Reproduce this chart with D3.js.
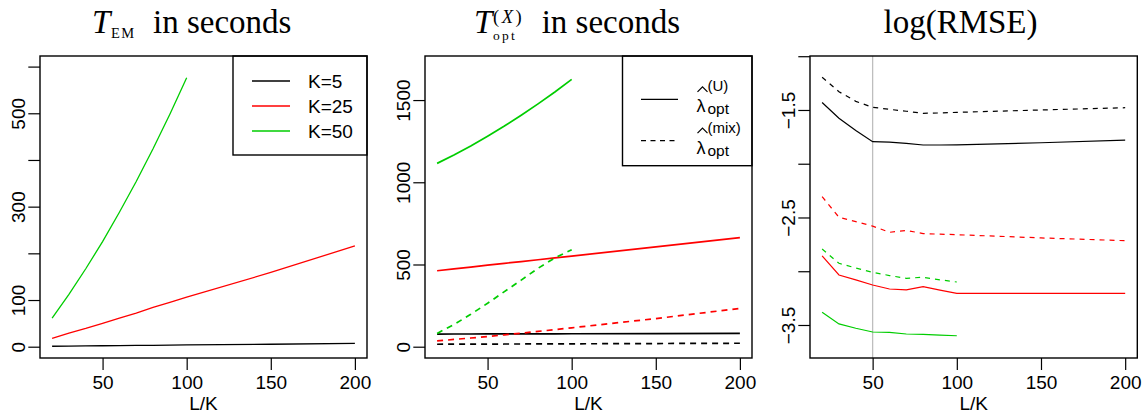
<!DOCTYPE html>
<html>
<head>
<meta charset="utf-8">
<script src="https://cdn.jsdelivr.net/npm/d3@7"></script>
<style>
  body { margin: 0; background: #fff; }
  svg { display: block; }
  .tick text { font-family: "Liberation Sans", Arial, sans-serif; font-size: 19px; fill: #000; }
</style>
</head>
<body>
<svg id="chart" width="1145" height="413"></svg>
<script>
// L/K values
const lk = [20, 30, 40, 50, 60, 70, 80, 90, 100, 150, 200];
const lkK50 = [20, 30, 40, 50, 60, 70, 80, 90, 100];

// T_EM in seconds
const emK5 = [1, 1.3, 1.7, 2, 2.3, 2.7, 3, 3.3, 3.7, 5.3, 7];
const emK25 = [18, 29, 39, 50, 61, 72, 84, 95, 106, 159, 216];
const emK50 = [61, 112, 167, 225, 288, 354, 424, 498, 576];

// T_opt in seconds (U = solid, mix = dashed)
const optK5U = [77, 77.2, 77.4, 77.7, 77.9, 78.1, 78.3, 78.6, 78.8, 79.9, 81];
const optK5Mix = [15, 15.3, 15.6, 16, 16.3, 16.6, 17, 17.3, 17.6, 19.3, 21];
const optK25U = [462, 473, 484, 496, 507, 518, 529, 540, 551, 607, 663];
const optK25Mix = [35, 44, 53, 62, 72, 82, 93, 104, 115, 171, 233];
const optK50U = [1115, 1166, 1221, 1280, 1342, 1408, 1477, 1549, 1626];
const optK50Mix = [81, 135, 197, 264, 335, 405, 477, 540, 590];

// log(RMSE)
const rmseK5U = [-1.43, -1.577, -1.69, -1.795, -1.80, -1.81, -1.826, -1.826, -1.825, -1.805, -1.78];
const rmseK5Mix = [-1.196, -1.33, -1.42, -1.475, -1.494, -1.512, -1.531, -1.528, -1.522, -1.50, -1.479];
const rmseK25U = [-2.858, -3.035, -3.08, -3.128, -3.165, -3.174, -3.143, -3.175, -3.205, -3.205, -3.205];
const rmseK25Mix = [-2.306, -2.498, -2.539, -2.58, -2.638, -2.62, -2.65, -2.655, -2.66, -2.69, -2.716];
const rmseK50U = [-3.382, -3.49, -3.53, -3.565, -3.568, -3.584, -3.588, -3.594, -3.60];
const rmseK50Mix = [-2.793, -2.926, -2.97, -3.01, -3.04, -3.066, -3.056, -3.08, -3.10];

const xTicks = [50, 100, 150, 200];
const emTicks = [0, 100, 200, 300, 400, 500, 600];
const emLabels = [0, 100, 300, 500];
const optTicks = [0, 500, 1000, 1500];
const rmseTicks = [-1.0, -1.5, -2.0, -2.5, -3.0, -3.5];
const rmseLabels = [-1.5, -2.5, -3.5];
const legendK = ["K=5", "K=25", "K=50"];

const BLACK = "#000", RED = "#ff0000", GREEN = "#00cd00";

const svg = d3.select("#chart");
const plotTop = 56, plotBottom = 358;

function panel(left, right, yDomain, yTicks, yLabels, fmt, series, dash, lw) {
  const x = d3.scaleLinear().domain([12.8, 207.2]).range([left, right]);
  const y = d3.scaleLinear().domain(yDomain).range([plotBottom, plotTop]);
  const g = svg.append("g");

  const line = d3.line().x(d => x(d[0])).y(d => y(d[1]));
  series.forEach(s => {
    g.append("path")
      .datum(s.xs.map((v, i) => [v, s.ys[i]]))
      .attr("d", line)
      .attr("fill", "none")
      .attr("stroke", s.color)
      .attr("stroke-width", lw)
      .attr("stroke-dasharray", s.dashed ? dash : null);
  });

  const xa = g.append("g")
    .attr("transform", `translate(0,${plotBottom})`)
    .call(d3.axisBottom(x).tickValues(xTicks).tickSize(12).tickPadding(5).tickFormat(d3.format("d")));
  xa.select(".domain").remove();
  xa.selectAll("line").attr("stroke-width", 1.2);
  xa.selectAll("text").attr("dy", 0).attr("y", 30.5);

  const ya = g.append("g")
    .attr("transform", `translate(${left},0)`)
    .call(d3.axisLeft(y).tickValues(yTicks).tickSize(11.7)
      .tickFormat(d => yLabels.includes(d) ? fmt(d) : ""));
  ya.select(".domain").remove();
  ya.selectAll("line").attr("stroke-width", 1.2);
  ya.selectAll("text")
    .attr("transform", "rotate(-90)")
    .attr("x", 0).attr("y", -15).attr("dy", 0)
    .attr("text-anchor", "middle");

  g.append("text")
    .attr("x", (left + right) / 2).attr("y", 409.5)
    .attr("text-anchor", "middle")
    .style("font-family", "Liberation Sans, Arial, sans-serif")
    .style("font-size", "19px")
    .text("L/K");

  return { g, x, y };
}

function box(g, x0, y0, x1, y1) {
  g.append("rect")
    .attr("x", x0).attr("y", y0).attr("width", x1 - x0).attr("height", y1 - y0)
    .attr("fill", "none").attr("stroke", "#000").attr("stroke-width", 1.4);
}

const serif = "Liberation Serif, Times New Roman, serif";
const sans = "Liberation Sans, Arial, sans-serif";

// ---------- panel 1 ----------
const p1 = panel(40, 367, [-24.2, 622.7], emTicks, emLabels, d3.format("d"), [
  { xs: lk, ys: emK5, color: BLACK },
  { xs: lk, ys: emK25, color: RED },
  { xs: lkK50, ys: emK50, color: GREEN }
], null, 1.3);
box(p1.g, 40, plotTop, 367, plotBottom);
box(p1.g, 233, plotTop, 367, 155);
[BLACK, RED, GREEN].forEach((c, i) => {
  const ly = 81 + i * 25;
  p1.g.append("line").attr("x1", 252).attr("x2", 290).attr("y1", ly).attr("y2", ly)
    .attr("stroke", c).attr("stroke-width", 1.3);
  p1.g.append("text").attr("x", 308).attr("y", ly + 6.8)
    .style("font-family", sans).style("font-size", "19px").text(legendK[i]);
});
const t1 = p1.g.append("g").style("font-family", serif);
t1.append("text").attr("x", 92).attr("y", 33).style("font-size", "33px").style("font-style", "italic").text("T");
t1.append("text").attr("x", 111).attr("y", 37.5).style("font-size", "14.5px").style("letter-spacing", "1.5px").text("EM");
t1.append("text").attr("x", 153).attr("y", 33).style("font-size", "33px").text("in seconds");

// ---------- panel 2 ----------
const p2 = panel(425, 752, [-68.7, 1768], optTicks, optTicks, d3.format("d"), [
  { xs: lk, ys: optK5U, color: BLACK },
  { xs: lk, ys: optK5Mix, color: BLACK, dashed: true },
  { xs: lk, ys: optK25U, color: RED },
  { xs: lk, ys: optK25Mix, color: RED, dashed: true },
  { xs: lkK50, ys: optK50U, color: GREEN },
  { xs: lkK50, ys: optK50Mix, color: GREEN, dashed: true }
], "6,5", 1.7);
box(p2.g, 425, plotTop, 752, plotBottom);
box(p2.g, 622.5, plotTop, 752, 165.7);
[{ ly: 99.3, sup: "(U)", dashed: false }, { ly: 140.7, sup: "(mix)", dashed: true }].forEach(e => {
  p2.g.append("line").attr("x1", 641).attr("x2", 678).attr("y1", e.ly).attr("y2", e.ly)
    .attr("stroke", "#000").attr("stroke-width", 1.3)
    .attr("stroke-dasharray", e.dashed ? "5,4.5" : null);
  const tg = p2.g.append("g").style("font-family", sans);
  const by = e.ly + 13;
  tg.append("text").attr("x", 696.5).attr("y", by).style("font-size", "18px").text("λ");
  tg.append("text").attr("x", 707.5).attr("y", by + 2).style("font-size", "15.5px").text("opt");
  tg.append("text").attr("x", 707.5).attr("y", by - 21).style("font-size", "15px").text(e.sup);
  tg.append("path")
    .attr("d", `M${697.5},${by - 20.5} L${702.5},${by - 25.5} L${707.5},${by - 20.5}`)
    .attr("fill", "none").attr("stroke", "#000").attr("stroke-width", 1.2);
});
const t2 = p2.g.append("g").style("font-family", serif);
t2.append("text").attr("x", 474).attr("y", 33).style("font-size", "33px").style("font-style", "italic").text("T");
t2.append("text").attr("x", 493).attr("y", 39.5).style("font-size", "13.5px").style("letter-spacing", "2.2px").text("opt");
const sup2 = t2.append("text").attr("x", 493).attr("y", 23).style("font-size", "18.5px").style("letter-spacing", "2.5px");
sup2.append("tspan").text("(");
sup2.append("tspan").style("font-style", "italic").text("X");
sup2.append("tspan").text(")");
t2.append("text").attr("x", 541.7).attr("y", 33).style("font-size", "33px").text("in seconds");

// ---------- panel 3 ----------
const p3 = panel(810, 1137.3, [-3.807, -0.998], rmseTicks, rmseLabels, d => d3.format(".1f")(d).replace("-", "\u2212"), [], null, 1.2);
p3.g.append("line")
  .attr("x1", p3.x(50)).attr("x2", p3.x(50)).attr("y1", plotTop).attr("y2", plotBottom)
  .attr("stroke", "#bebebe").attr("stroke-width", 1.3);
const line3 = d3.line().x(d => p3.x(d[0])).y(d => p3.y(d[1]));
[
  { xs: lk, ys: rmseK5U, color: BLACK },
  { xs: lk, ys: rmseK5Mix, color: BLACK, dashed: true },
  { xs: lk, ys: rmseK25U, color: RED },
  { xs: lk, ys: rmseK25Mix, color: RED, dashed: true },
  { xs: lkK50, ys: rmseK50U, color: GREEN },
  { xs: lkK50, ys: rmseK50Mix, color: GREEN, dashed: true }
].forEach(s => {
  p3.g.append("path")
    .datum(s.xs.map((v, i) => [v, s.ys[i]]))
    .attr("d", line3)
    .attr("fill", "none").attr("stroke", s.color).attr("stroke-width", 1.2)
    .attr("stroke-dasharray", s.dashed ? "5,5" : null);
});
box(p3.g, 810, plotTop, 1137.3, plotBottom);
p3.g.append("text").attr("x", 960.5).attr("y", 33).attr("text-anchor", "middle")
  .style("font-family", serif).style("font-size", "33px").text("log(RMSE)");
</script>
</body>
</html>
